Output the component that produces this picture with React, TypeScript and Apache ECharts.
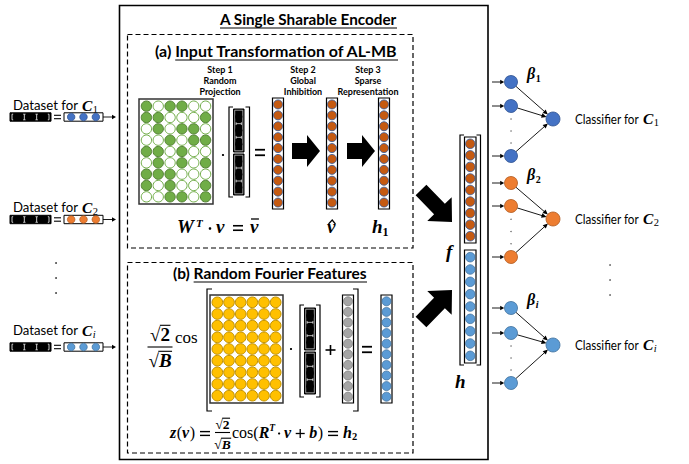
import React, { useEffect, useRef } from "react";
import * as echarts from "echarts";

// ---------- content (data) ----------
const TITLE = "A Single Sharable Encoder";
const PANEL_A = ["(a) ", "Input Transformation of AL-MB"];
const PANEL_B = ["(b) ", "Random Fourier Features"];
const STEP_LABELS = [
  ["Step 1", "Random", "Projection"],
  ["Step 2", "Global", "Inhibition"],
  ["Step 3", "Sparse", "Representation"],
];
// random projection matrix W^T: 1 = filled (green), 0 = empty
const GREEN_PATTERN = ["101100", "110001", "010110", "001011", "110100", "010101", "111000", "101001", "001101"];
const FOURIER_ROWS = 9;
const FOURIER_COLS = 6;
const ENC_DOTS = 10;
const F_DOTS = 9;
const VEC_DOTS = 3;
const CLASS_SUBS = ["1", "2", "i"];
const CLASS_FILL = ["#4472C4", "#ED7D31", "#5B9BD5"];
const CLASS_STROKE = ["#2F528F", "#AE5A21", "#41719C"];
const DATASET_TEXT = "Dataset for";
const CLASSIFIER_TEXT = "Classifier for";

const SANS = "Lato, 'Open Sans', sans-serif";
const SERIF = "'Liberation Serif', serif";

let _ctx: CanvasRenderingContext2D | null = null;
function measure(t: string, s: number, w = "normal", it = false, f = SANS) {
  if (!_ctx) _ctx = document.createElement("canvas").getContext("2d");
  _ctx!.font = `${it ? "italic " : ""}${w} ${s}px ${f}`;
  return _ctx!.measureText(t).width;
}

function build() {
  const els: any[] = [];
  const add = (e: any) => els.push({ silent: true, ...e });
  const rect = (x: number, y: number, w: number, h: number, style: any) =>
    add({ type: "rect", shape: { x, y, width: w, height: h }, style });
  const circle = (cx: number, cy: number, r: number, fill: string, stroke = "none", lw = 0.8) =>
    add({ type: "circle", shape: { cx, cy, r }, style: { fill, stroke, lineWidth: lw } });
  const line = (x1: number, y1: number, x2: number, y2: number, lw = 1, stroke = "#000", lineDash?: number[]) =>
    add({ type: "line", shape: { x1, y1, x2, y2 }, style: { stroke, lineWidth: lw, lineDash } });
  const polygon = (points: number[][], fill = "#000") => add({ type: "polygon", shape: { points }, style: { fill } });
  const polyline = (points: number[][], lw = 1, stroke = "#000") =>
    add({ type: "polyline", shape: { points }, style: { stroke, lineWidth: lw, fill: "none" } });
  const text = (t: string, x: number, base: number, s: number, o: any = {}) => {
    const w = o.w || "normal";
    const it = !!o.i;
    const f = o.f || SANS;
    const sx = o.sx || 1;
    const mid = f === SANS ? 0.387 : 0.338;
    add({
      type: "text",
      x,
      y: base - mid * s,
      scaleX: sx,
      style: {
        text: t,
        fill: o.c || "#000",
        fontSize: s,
        fontWeight: w,
        fontStyle: it ? "italic" : "normal",
        fontFamily: f,
        align: o.align || "left",
        verticalAlign: "middle",
      },
    });
    return measure(t, s, w, it, f) * sx;
  };
  const squeeze = (t: string, s: number, target: number, w = "normal") => target / measure(t, s, w);
  const arrow = (x1: number, y1: number, x2: number, y2: number, lw = 0.9, hl = 4.5, hw = 2.4) => {
    const dx = x2 - x1, dy = y2 - y1, L = Math.hypot(dx, dy);
    const ux = dx / L, uy = dy / L, px = -uy, py = ux;
    const bx = x2 - ux * hl, by = y2 - uy * hl;
    line(x1, y1, bx + ux, by + uy, lw);
    polygon([[x2, y2], [bx + px * hw, by + py * hw], [bx - px * hw, by - py * hw]]);
  };
  const block = (tx: number, ty: number, hx: number, hy: number, sw: number, hw: number, hl: number) => {
    const dx = hx - tx, dy = hy - ty, L = Math.hypot(dx, dy);
    const ux = dx / L, uy = dy / L, px = -uy, py = ux;
    const nx = hx - ux * hl, ny = hy - uy * hl;
    polygon([
      [tx + (px * sw) / 2, ty + (py * sw) / 2],
      [nx + (px * sw) / 2, ny + (py * sw) / 2],
      [nx + (px * hw) / 2, ny + (py * hw) / 2],
      [hx, hy],
      [nx - (px * hw) / 2, ny - (py * hw) / 2],
      [nx - (px * sw) / 2, ny - (py * sw) / 2],
      [tx - (px * sw) / 2, ty - (py * sw) / 2],
    ]);
  };
  const bracket = (x: number, y0: number, y1: number, serif: number, lw = 1.2) =>
    polyline([[x + serif, y0], [x, y0], [x, y1], [x + serif, y1]], lw);
  const matrix = (x: number, y: number, w: number, h: number, rows: number, cols: number,
    filled: (r: number, c: number) => boolean, fill: string, stroke: string) => {
    rect(x, y, w, h, { fill: "#fff", stroke: "#333", lineWidth: 1.5 });
    const px = (w - 3) / cols, py = (h - 3) / rows;
    const rad = Math.min(px, py) / 2 - 0.5;
    for (let r = 0; r < rows; r++)
      for (let c = 0; c < cols; c++) {
        const on = filled(r, c);
        circle(x + 1.5 + px * (c + 0.5), y + 1.5 + py * (r + 0.5), rad, on ? fill : "#fff", on ? stroke : fill, 1);
      }
  };
  const column = (x: number, y: number, w: number, h: number, n: number, fill: string, stroke: string) => {
    rect(x, y, w, h, { fill: "#fff", stroke: "#000", lineWidth: 1.2 });
    const p = (h - 2) / n;
    const r = Math.min(w / 2 - 1, p / 2 - 0.2);
    for (let i = 0; i < n; i++) circle(x + w / 2, y + 1 + p * (i + 0.5), r, fill, stroke, 0.8);
  };
  const blackV = (x: number, y: number, w: number, h: number, n: number) => {
    rect(x, y, w, h, { fill: "#000", stroke: "#000", lineWidth: 1 });
    rect(x + 1.2, y + 1.2, w - 2.4, h - 2.4, { fill: "none", stroke: "#fff", lineWidth: 0.6 });
    const p = (h - 2) / n;
    for (let i = 0; i < n; i++) circle(x + w / 2, y + 1 + p * (i + 0.5), Math.min(w / 2 - 1.6, p / 2 - 0.6), "#000");
    for (let k = 1; k < n; k++) {
      const yk = y + 1 + p * k;
      line(x + 2.6, yk, x + w - 2.6, yk, 0.7, "#fff");
      line(x + 2.6, yk - 1.4, x + 2.6, yk + 1.4, 0.7, "#fff");
      line(x + w - 2.6, yk - 1.4, x + w - 2.6, yk + 1.4, 0.7, "#fff");
    }
  };
  const blackH = (x: number, y: number, w: number, h: number, n: number) => {
    rect(x, y, w, h, { fill: "#000", stroke: "#000", lineWidth: 1 });
    const p = (w - 4) / n;
    for (let i = 0; i < n; i++) circle(x + 2 + p * (i + 0.5), y + h / 2, Math.min(h / 2 - 0.6, p / 2 - 1.2), "#000");
    for (let k = 0; k <= n; k++) {
      const xk = x + 2 + p * k;
      line(xk, y + 1.4, xk, y + h - 1.4, 0.8, "#fff");
      if (k > 0) line(xk - 1.2, y + 1.4, xk, y + 1.4, 0.7, "#fff");
      if (k < n) line(xk, y + 1.4, xk + 1.2, y + 1.4, 0.7, "#fff");
      if (k > 0) line(xk - 1.2, y + h - 1.4, xk, y + h - 1.4, 0.7, "#fff");
      if (k < n) line(xk, y + h - 1.4, xk + 1.2, y + h - 1.4, 0.7, "#fff");
    }
  };
  const colorVec = (x: number, y: number, w: number, h: number, n: number, fill: string, stroke: string) => {
    rect(x, y, w, h, { fill: "#fff", stroke: "#000", lineWidth: 1 });
    const p = (w - 2) / n;
    for (let i = 0; i < n; i++) circle(x + 1 + p * (i + 0.5), y + h / 2, Math.min(h / 2 - 0.4, p / 2 - 0.3), fill, stroke, 0.7);
  };
  const eq = (x0: number, x1: number, yc: number, gap = 4.5, lw = 1.6) => {
    line(x0, yc - gap / 2, x1, yc - gap / 2, lw);
    line(x0, yc + gap / 2, x1, yc + gap / 2, lw);
  };
  const plus = (cx: number, cy: number, half: number, lw = 1.5) => {
    line(cx - half, cy, cx + half, cy, lw);
    line(cx, cy - half, cx, cy + half, lw);
  };
  const radical = (x: number, base: number, s: number, rad: string, o: any) => {
    const w1 = text("\u221A", x, base, s, { f: SERIF, w: "bold" });
    const w2 = text(rad, x + w1, base, s, { f: SERIF, w: "bold", ...o });
    line(x + w1 - 0.6, base - 0.8 * s, x + w1 + w2 + 0.5, base - 0.8 * s, 1.1);
    return w1 + w2;
  };
  const sqrtFrac = (cx: number, barY: number, s: number, nb: number, db: number, barW: number) => {
    const wn = measure("\u221A", s, "bold", false, SERIF) + measure("2", s, "bold", false, SERIF);
    radical(cx - wn / 2, barY - nb, s, "2", {});
    line(cx - barW / 2, barY, cx + barW / 2, barY, 1.1);
    const wd = measure("\u221A", s, "bold", false, SERIF) + measure("B", s, "bold", true, SERIF);
    radical(cx - wd / 2, barY + db, s, "B", { i: true });
  };

  // ---------- encoder frame ----------
  rect(119.5, 5.5, 368.5, 454, { fill: "none", stroke: "#000", lineWidth: 1.6 });
  const tsx = squeeze(TITLE, 14.5, 177, "bold");
  text(TITLE, 220, 25, 14.5, { w: "bold", sx: tsx });
  line(220, 28, 397, 28, 1.2);

  rect(127.5, 34.5, 285.5, 213.5, { fill: "none", stroke: "#000", lineWidth: 1.2, lineDash: [5, 3] });
  rect(127.5, 262.5, 285.5, 190.5, { fill: "none", stroke: "#000", lineWidth: 1.2, lineDash: [5, 3] });

  // panel titles
  const PS = 15;
  const sa = squeeze(PANEL_A.join(""), PS, 243, "bold");
  const wa0 = text(PANEL_A[0], 155, 57, PS, { w: "bold", sx: sa });
  const wa1 = text(PANEL_A[1], 155 + wa0, 57, PS, { w: "bold", sx: sa });
  line(155 + wa0, 60, 155 + wa0 + wa1, 60, 1.2);
  const sb = squeeze(PANEL_B.join(""), PS, 194, "bold");
  const wb0 = text(PANEL_B[0], 173, 279, PS, { w: "bold", sx: sb });
  const wb1 = text(PANEL_B[1], 173 + wb0, 279, PS, { w: "bold", sx: sb });
  line(173 + wb0, 282, 173 + wb0 + wb1, 282, 1.2);

  // step labels
  const stepX = [220, 303, 368];
  const stepBase = [73, 84, 95];
  const SS = 8.8;
  const ssx = squeeze("Representation", SS, 61, "bold");
  STEP_LABELS.forEach((ls, i) =>
    ls.forEach((l, j) => text(l, stepX[i], stepBase[j], SS, { w: "bold", align: "center", sx: ssx }))
  );

  // ---------- panel (a) ----------
  matrix(139, 99, 74, 105, GREEN_PATTERN.length, GREEN_PATTERN[0].length,
    (r, c) => GREEN_PATTERN[r][c] === "1", "#70AD47", "#548235");
  circle(223, 155, 1.1, "#000");
  bracket(229, 107, 197, 4);
  bracket(249.5, 107, 197, -4);
  blackV(233.5, 109, 10.5, 43, VEC_DOTS);
  blackV(233.5, 154, 10.5, 41, VEC_DOTS);
  eq(255, 265, 152.5, 5.5, 1.8);
  const encX = [272.5, 326.5, 378.5];
  encX.forEach((x) => column(x, 98, 11, 111, ENC_DOTS, "#C55A11", "#2F5597"));
  block(292, 151, 320, 151, 16, 32, 13);
  block(347, 151, 375, 151, 16, 32, 13);

  // formula W^T . v = v-bar
  const MB = { f: SERIF, w: "bold", i: true };
  text("W", 177, 233, 19, MB);
  text("T", 196, 227, 11, MB);
  circle(210, 228.5, 1.3, "#000");
  text("v", 216, 233, 19, MB);
  eq(233, 243, 228, 4.5, 1.6);
  const wv = text("v", 250, 233, 19, MB);
  line(251, 219, 250 + wv + 0.5, 219, 1.3);
  const wv2 = text("v", 327, 233, 19, MB);
  polyline([[328.5, 224], [327.5 + wv2 / 2 + 0.5, 220], [326.5 + wv2 + 0.5, 224]], 1.2);
  const wh = text("h", 372, 233, 19, MB);
  text("1", 372 + wh, 236.5, 12, { f: SERIF, w: "bold" });

  // ---------- panel (b) ----------
  sqrtFrac(160, 347, 19, 6.5, 19.5, 25);
  text("cos", 175, 343, 17, { f: SERIF });
  bracket(207, 289, 411, 5);
  bracket(358, 289, 411, -5);
  matrix(210, 295, 73, 108, FOURIER_ROWS, FOURIER_COLS, () => true, "#FFC000", "#C09000");
  circle(291, 349, 1.1, "#000");
  bracket(300, 305, 397, 4);
  bracket(320, 305, 397, -4);
  blackV(304.5, 308, 11, 42, VEC_DOTS);
  blackV(304.5, 352, 11, 42, VEC_DOTS);
  plus(330.5, 350, 5, 1.6);
  column(342.5, 295, 11, 108, ENC_DOTS, "#A5A5A5", "#7F7F7F");
  eq(362, 372, 349.5, 5.5, 1.8);
  column(381, 295, 11, 108, ENC_DOTS, "#5B9BD5", "#41719C");

  // bottom formula: z(v) = sqrt2/sqrtB cos(R^T . v + b) = h2
  const FB = 438, AX = 433.5, FS = 16;
  const RG = { f: SERIF };
  let x = 170;
  x += text("z", x, FB, FS, MB) + 0.5;
  x += text("(", x, FB, FS, RG);
  x += text("v", x, FB, FS, MB) + 0.5;
  x += text(")", x, FB, FS, RG) + 5;
  eq(x, x + 10, AX, 3.8, 1.4);
  x += 10 + 5;
  sqrtFrac(x + 7.5, 432.5, 13.5, 3.5, 16.5, 15);
  x += 17;
  x += text("cos(", x, FB, FS, RG);
  x += text("R", x, FB, FS, MB);
  x += text("T", x, FB - 7, 9.5, MB) + 4;
  circle(x, AX, 1.1, "#000");
  x += 5;
  x += text("v", x, FB, FS, MB) + 4.5;
  plus(x + 4.5, AX, 4.5, 1.3);
  x += 9 + 4.5;
  x += text("b", x, FB, FS, MB) + 0.5;
  x += text(")", x, FB, FS, RG) + 5;
  eq(x, x + 10, AX, 3.8, 1.4);
  x += 10 + 5;
  x += text("h", x, FB, FS, MB);
  text("2", x, FB + 2.5, 10.5, { f: SERIF, w: "bold" });

  // ---------- f / h stacked vector ----------
  block(421, 190, 452, 222, 15, 34, 18);
  block(421, 322, 452, 290, 15, 34, 18);
  bracket(460, 135, 365, 4);
  bracket(480.5, 135, 365, -4);
  column(464.5, 137, 11.5, 106, F_DOTS, "#C55A11", "#2F5597");
  column(464.5, 250, 11.5, 113, F_DOTS, "#5B9BD5", "#41719C");
  text("f", 446, 258, 19, MB);
  text("h", 455, 388, 19, MB);

  // ---------- classifiers ----------
  const inX = 511, outX = 553, R = 6.5;
  const ins = [[82, 106, 156], [183, 206, 257], [308, 333, 383]];
  const outs = [119, 219, 345];
  const betaBase = [79, 180, 305];
  const labBase = [123.5, 223.5, 349.5];
  const LS = 14;
  const csx = squeeze(CLASSIFIER_TEXT, LS, 64);
  CLASS_SUBS.forEach((sub, g) => {
    const fill = CLASS_FILL[g], st = CLASS_STROKE[g];
    ins[g].forEach((y) => {
      arrow(492, y, inX - R - 0.3, y, 0.9, 4, 2.2);
      const dx = outX - inX, dy = outs[g] - y, L = Math.hypot(dx, dy);
      arrow(inX + (dx / L) * R, y + (dy / L) * R, outX - (dx / L) * (R + 0.3), outs[g] - (dy / L) * (R + 0.3), 0.9, 5, 2.3);
    });
    ins[g].forEach((y) => circle(inX, y, R, fill, st, 0.8));
    circle(outX, outs[g], R + 0.5, fill, st, 0.8);
    const y1 = ins[g][1], y2 = ins[g][2];
    [0.26, 0.5, 0.74].forEach((f) => circle(inX, y1 + (y2 - y1) * f, 0.7, "#555"));
    const wb = text("\u03B2", 527, betaBase[g], 16, MB);
    text(sub, 527 + wb + 0.5, betaBase[g] + 3, 10, { f: SERIF, w: "bold", i: sub === "i" });
    text(CLASSIFIER_TEXT, 575, labBase[g], LS, { sx: csx });
    const wc = text("C", 643, labBase[g], 15.5, MB);
    text(sub, 643 + wc + 0.5, labBase[g] + 3, 10.5, { f: SERIF, i: sub === "i" });
  });
  [265, 280, 295].forEach((y) => circle(610, y, 0.8, "#555"));

  // ---------- datasets ----------
  const dBase = [110.5, 212.5, 335.5];
  const vY = [117, 219.5, 347];
  const dsx = squeeze(DATASET_TEXT, LS, 65);
  CLASS_SUBS.forEach((sub, g) => {
    text(DATASET_TEXT, 13, dBase[g], LS, { sx: dsx });
    const wc = text("C", 82, dBase[g], 15.5, MB);
    text(sub, 82 + wc + 0.5, dBase[g] + 3, 10.5, { f: SERIF, i: sub === "i" });
    blackH(10, vY[g] - 4.2, 41, 8.4, VEC_DOTS);
    eq(54, 61, vY[g], 3.4, 1.1);
    colorVec(64, vY[g] - 4.2, 39, 8.4, VEC_DOTS, CLASS_FILL[g], CLASS_STROKE[g]);
    arrow(103, vY[g], 116, vY[g], 0.9, 4, 2.2);
  });
  [263, 278, 293].forEach((y) => circle(56, y, 0.9, "#333"));

  return els;
}

export default function App() {
  const ref = useRef<HTMLDivElement>(null);
  useEffect(() => {
    const chart = echarts.init(ref.current!, null, { renderer: "svg" });
    chart.setOption({ animation: false, backgroundColor: "#fff", graphic: { elements: build() } });
    return () => chart.dispose();
  }, []);
  return (
    <div
      ref={ref}
      style={{ position: "fixed", left: 0, top: 0, width: 689, height: 464, background: "#fff" }}
    />
  );
}
